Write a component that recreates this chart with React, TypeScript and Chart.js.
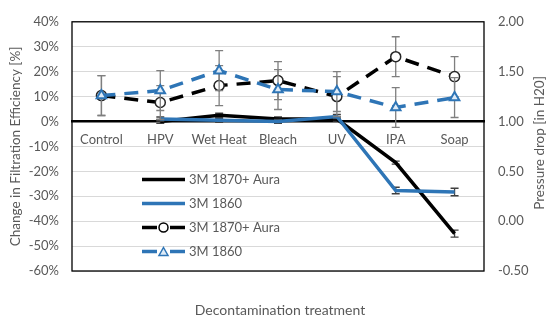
import React, { useEffect, useRef } from "react";
import { Chart, registerables } from "chart.js";

Chart.register(...registerables);

const categories = ["Control", "HPV", "Wet Heat", "Bleach", "UV", "IPA", "Soap"];

// Change in filtration efficiency [%] (left axis)
const effAura: (number | null)[] = [null, 0, 2.5, 1, 1, -16.5, -45];
const effAuraErr: (number | null)[] = [null, 0.8, 0.8, 0.8, 0.8, 0.6, 1.4];
const eff1860: (number | null)[] = [null, 1, 0.5, 0, 2, -27.7, -28.3];
const eff1860Err: (number | null)[] = [null, 0.8, 0.8, 0.8, 0.8, 1.3, 1.5];

// Pressure drop [in H2O] (right axis)
const dpAura: number[] = [1.26, 1.19, 1.36, 1.41, 1.25, 1.65, 1.45];
const dpAuraErr: number[] = [0.2, 0.17, 0.2, 0.19, 0.2, 0.2, 0.2];
const dp1860: number[] = [1.26, 1.31, 1.51, 1.32, 1.3, 1.14, 1.24];
const dp1860Err: number[] = [0.2, 0.2, 0.2, 0.2, 0.2, 0.2, 0.2];

const legendLabels = ["3M 1870+ Aura", "3M 1860", "3M 1870+ Aura", "3M 1860"];

const leftTitle = "Change in Filtration Efficiency [%]";
const rightTitle = "Pressure drop [in H20]";
const xTitle = "Decontamination treatment";

const BLUE = "#2E75B6";
const TEXT = "#595959";
const FONT = "Lato, 'Open Sans', sans-serif";

const errorPlugin = {
  id: "errorBars",
  beforeDatasetDraw(chart: any, args: any) {
    const ds: any = chart.data.datasets[args.index];
    if (!ds.errors) return;
    const xs = chart.scales.x;
    const ys = chart.scales[ds.yAxisID];
    const ctx = chart.ctx;
    ctx.save();
    ctx.strokeStyle = ds.errorColor;
    ctx.lineWidth = 1.3;
    ctx.setLineDash([]);
    ds.data.forEach((v: number | null, i: number) => {
      const e = ds.errors[i];
      if (v == null || e == null) return;
      const x = xs.getPixelForValue(i);
      const yt = ys.getPixelForValue(v + e);
      const yb = ys.getPixelForValue(v - e);
      ctx.beginPath();
      ctx.moveTo(x, yt);
      ctx.lineTo(x, yb);
      ctx.moveTo(x - 4, yt);
      ctx.lineTo(x + 4, yt);
      ctx.moveTo(x - 4, yb);
      ctx.lineTo(x + 4, yb);
      ctx.stroke();
    });
    ctx.restore();
  },
};

const decorPlugin = {
  id: "decor",
  beforeDatasetsDraw(chart: any) {
    const { ctx, chartArea: a } = chart;
    ctx.save();
    ctx.strokeStyle = "#000";
    ctx.lineWidth = 1.3;
    ctx.strokeRect(a.left, a.top, a.right - a.left, a.bottom - a.top);
    ctx.restore();
  },
  afterDraw(chart: any) {
    const { ctx, chartArea: a } = chart;
    ctx.save();
    ctx.fillStyle = TEXT;
    ctx.font = `13.5px ${FONT}`;
    ctx.textAlign = "center";
    ctx.textBaseline = "middle";
    const cy = (a.top + a.bottom) / 2;
    ctx.save();
    ctx.translate(16, cy);
    ctx.rotate(-Math.PI / 2);
    ctx.fillText(leftTitle, 0, 0);
    ctx.restore();
    ctx.save();
    ctx.translate(540, 143);
    ctx.rotate(-Math.PI / 2);
    ctx.fillText(rightTitle, 0, 0);
    ctx.restore();
    ctx.font = `14px ${FONT}`;
    ctx.fillText(xTitle, 280, 310);

    // legend
    const ds = chart.data.datasets;
    const rows = [179.5, 203.5, 227.5, 251.5];
    ds.forEach((d: any, i: number) => {
      const y = rows[i];
      ctx.strokeStyle = d.borderColor;
      ctx.lineWidth = 3.5;
      ctx.setLineDash([]);
      ctx.beginPath();
      if (d.borderDash && d.borderDash.length) {
        ctx.moveTo(142, y);
        ctx.lineTo(157, y);
        ctx.moveTo(170, y);
        ctx.lineTo(185, y);
      } else {
        ctx.moveTo(142, y);
        ctx.lineTo(185, y);
      }
      ctx.stroke();
      if (d.pointStyle === "circle") {
        ctx.beginPath();
        ctx.arc(163.5, y, 4.5, 0, Math.PI * 2);
        ctx.fillStyle = "#fff";
        ctx.fill();
        ctx.lineWidth = 1.5;
        ctx.strokeStyle = "#000";
        ctx.stroke();
      } else if (d.pointStyle === "triangle") {
        ctx.beginPath();
        ctx.moveTo(163.5, y - 4);
        ctx.lineTo(168, y + 4);
        ctx.lineTo(159, y + 4);
        ctx.closePath();
        ctx.fillStyle = "#DEEBF7";
        ctx.fill();
        ctx.lineWidth = 1.5;
        ctx.strokeStyle = BLUE;
        ctx.stroke();
      }
      ctx.fillStyle = TEXT;
      ctx.font = `13px ${FONT}`;
      ctx.textAlign = "left";
      ctx.fillText(legendLabels[i], 189, y + 0.5);
    });
    ctx.restore();
  },
};

export default function App() {
  const ref = useRef<HTMLCanvasElement>(null);
  useEffect(() => {
    if (!ref.current) return;
    const chart = new Chart(ref.current, {
      type: "line",
      data: {
        labels: categories,
        datasets: [
          {
            label: legendLabels[0],
            data: effAura,
            yAxisID: "y",
            borderColor: "#000",
            borderWidth: 3.5,
            pointRadius: 0,
            order: 3,
            errors: effAuraErr,
            errorColor: "#404040",
          } as any,
          {
            label: legendLabels[1],
            data: eff1860,
            yAxisID: "y",
            borderColor: BLUE,
            borderWidth: 3.5,
            pointRadius: 0,
            order: 2,
            errors: eff1860Err,
            errorColor: "#404040",
          } as any,
          {
            label: legendLabels[2],
            data: dpAura,
            yAxisID: "y1",
            borderColor: "#000",
            borderWidth: 3.5,
            borderDash: [14, 9],
            pointStyle: "circle",
            pointRadius: 5,
            pointBorderWidth: 1.5,
            pointBackgroundColor: "#fff",
            pointBorderColor: "#262626",
            order: 1,
            errors: dpAuraErr,
            errorColor: "#7F7F7F",
          } as any,
          {
            label: legendLabels[3],
            data: dp1860,
            yAxisID: "y1",
            borderColor: BLUE,
            borderWidth: 3.5,
            borderDash: [14, 9],
            pointStyle: "triangle",
            pointRadius: 5.5,
            pointBorderWidth: 2,
            pointBackgroundColor: "#DEEBF7",
            pointBorderColor: BLUE,
            order: 0,
            errors: dp1860Err,
            errorColor: "#7F7F7F",
          } as any,
        ],
      },
      options: {
        responsive: false,
        maintainAspectRatio: false,
        animation: false,
        layout: { padding: { top: 19, bottom: 47, left: 0, right: 0 } },
        plugins: { legend: { display: false }, tooltip: { enabled: false } },
        scales: {
          x: {
            type: "category",
            position: { y: 0 } as any,
            offset: true,
            grid: { display: false, drawTicks: false },
            border: { display: true, color: "#000", width: 2.5 },
            ticks: { color: TEXT, font: { family: FONT, size: 13 }, padding: 11, maxRotation: 0 },
          },
          y: {
            position: "left",
            min: -60,
            max: 40,
            afterFit: (s: any) => {
              s.width = 72;
            },
            grid: { color: "#D9D9D9", lineWidth: 1, drawTicks: false },
            border: { display: false },
            ticks: {
              stepSize: 10,
              padding: 13,
              color: TEXT,
              font: { family: FONT, size: 13 },
              callback: (v: any) => `${v}%`,
            },
          },
          y1: {
            position: "right",
            min: -0.5,
            max: 2,
            afterFit: (s: any) => {
              s.width = 63;
            },
            grid: { display: false, drawTicks: false },
            border: { display: false },
            ticks: {
              stepSize: 0.5,
              padding: 14,
              color: TEXT,
              font: { family: FONT, size: 13 },
              callback: (v: any) => Number(v).toFixed(2),
            },
          },
        },
      },
      plugins: [decorPlugin, errorPlugin],
    });
    return () => chart.destroy();
  }, []);
  return (
    <div style={{ position: "absolute", left: 0, top: 0, width: 547, height: 318, background: "#fff" }}>
      <canvas ref={ref} width={547} height={318} />
    </div>
  );
}
